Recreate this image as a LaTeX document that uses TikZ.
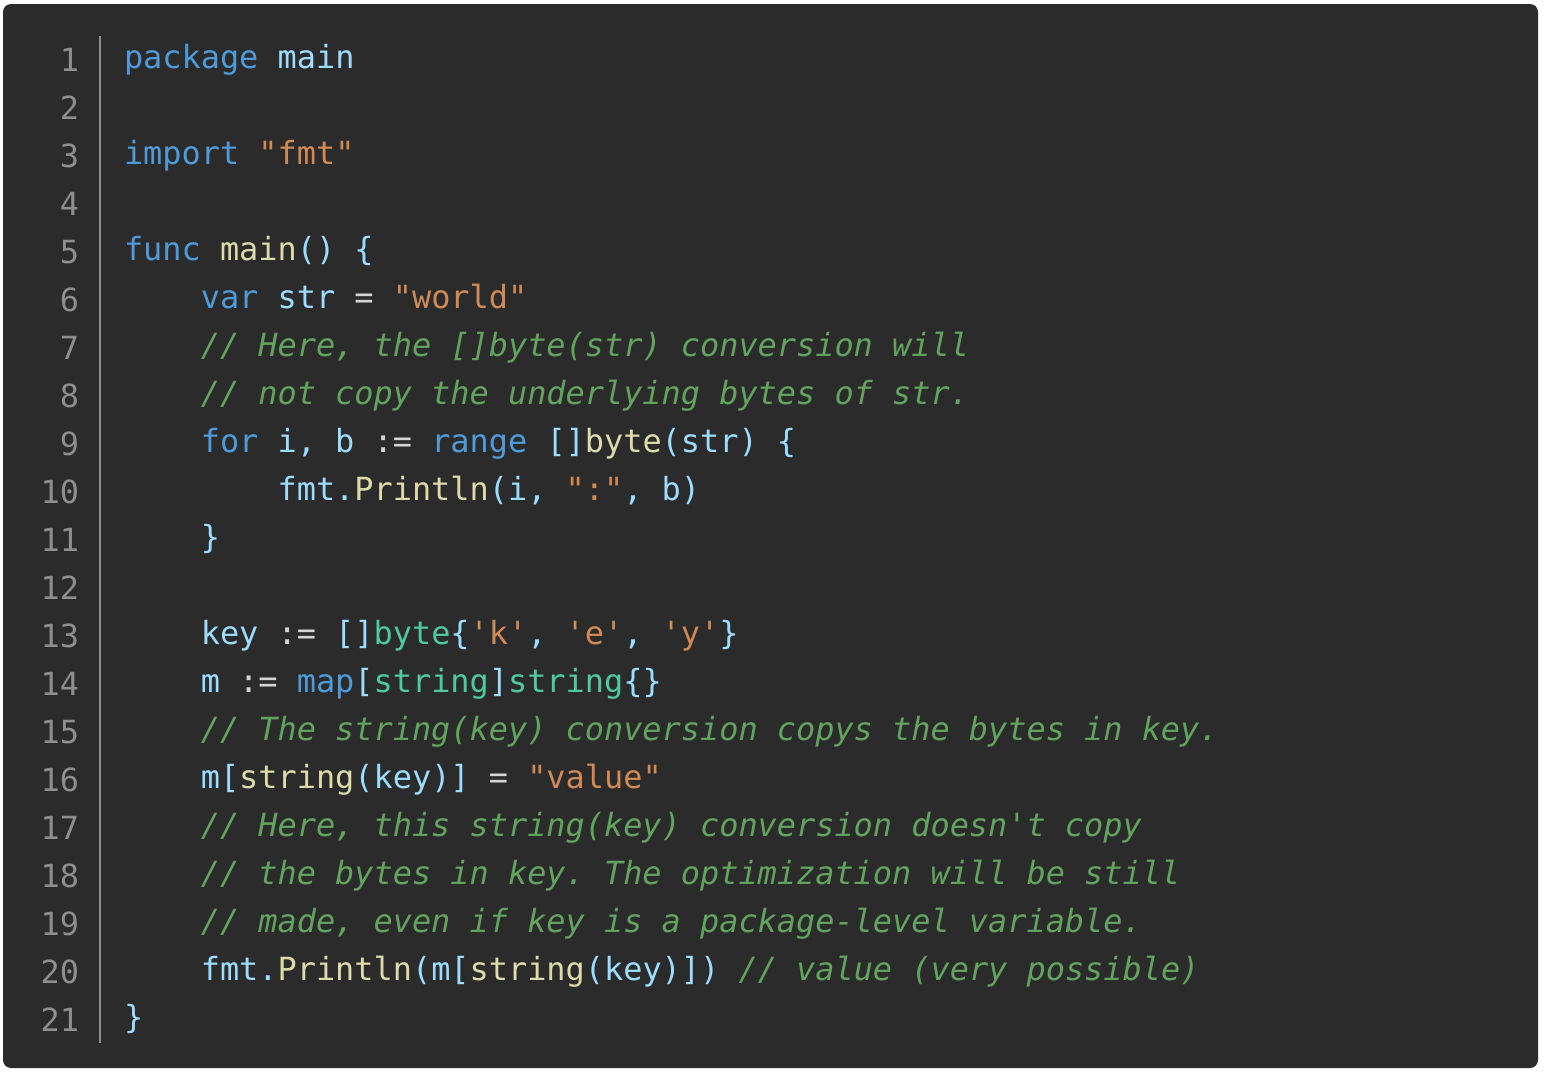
\documentclass[tikz,border=0pt]{standalone}
\usepackage{fontspec}
\setmonofont{DejaVu Sans Mono}
\usepackage{xcolor}

\definecolor{gobg}{HTML}{2B2B2B}
\definecolor{gonum}{HTML}{8E8E8E}
\definecolor{goid}{HTML}{9CDCFE}
\definecolor{gokw}{HTML}{4F9BDA}
\definecolor{gofn}{HTML}{DCDCAA}
\definecolor{goty}{HTML}{4EC9A0}
\definecolor{gostr}{HTML}{D08A56}
\definecolor{gocm}{HTML}{62A35E}
\definecolor{goop}{HTML}{D4D4D4}

\newcommand{\gokw}[1]{\textcolor{gokw}{#1}}
\newcommand{\gofn}[1]{\textcolor{gofn}{#1}}
\newcommand{\goty}[1]{\textcolor{goty}{#1}}
\newcommand{\gostr}[1]{\textcolor{gostr}{#1}}
\newcommand{\goop}[1]{\textcolor{goop}{#1}}
\newcommand{\gocm}[1]{{\itshape\color{gocm}#1}}

\tikzset{
  code/.style={anchor=base west, inner sep=0pt, outer sep=0pt, text=goid,
    font=\ttfamily\fontsize{31.9}{38}\selectfont},
  lnum/.style={anchor=base east, inner sep=0pt, outer sep=0pt, text=gonum,
    font=\ttfamily\fontsize{31.9}{38}\selectfont}
}

\begin{document}
\frenchspacing
\begin{tikzpicture}[x=1pt, y=-1pt]
  \useasboundingbox (0, 0) rectangle (1544, 1072);
  \fill[white] (0, 0) rectangle (1544, 1072);
  \fill[gobg, rounded corners=8pt] (3, 4) rectangle (1538, 1068);
  \draw[gonum, line width=2pt] (100, 36) -- (100, 1043);
  % line numbers
  \foreach \n in {1,...,21}
    \node[lnum] (n\n) at (79, {71+48*(\n-1)}) {\n};
  % code lines
  \node[code] (l1) at (124, 68) {\gokw{package} main};
  \node[code] (l3) at (124, 164) {\gokw{import} \gostr{"fmt"}};
  \node[code] (l5) at (124, 260) {\gokw{func} \gofn{main}() \{};
  \node[code] (l6) at (200.8, 308) {\gokw{var} str \goop{=} \gostr{"world"}};
  \node[code] (l7) at (200.8, 356) {\gocm{// Here, the []byte(str) conversion will}};
  \node[code] (l8) at (200.8, 404) {\gocm{// not copy the underlying bytes of str.}};
  \node[code] (l9) at (200.8, 452) {\gokw{for} i, b \goop{:=} \gokw{range} []\gofn{byte}(str) \{};
  \node[code] (l10) at (277.6, 500) {fmt.\gofn{Println}(i, \gostr{":"}, b)};
  \node[code] (l11) at (200.8, 548) {\}};
  \node[code] (l13) at (200.8, 644) {key \goop{:=} []\goty{byte}\{\gostr{'k'}, \gostr{'e'}, \gostr{'y'}\}};
  \node[code] (l14) at (200.8, 692) {m \goop{:=} \gokw{map}[\goty{string}]\goty{string}\{\}};
  \node[code] (l15) at (200.8, 740) {\gocm{// The string(key) conversion copys the bytes in key.}};
  \node[code] (l16) at (200.8, 788) {m[\gofn{string}(key)] \goop{=} \gostr{"value"}};
  \node[code] (l17) at (200.8, 836) {\gocm{// Here, this string(key) conversion doesn't copy}};
  \node[code] (l18) at (200.8, 884) {\gocm{// the bytes in key. The optimization will be still}};
  \node[code] (l19) at (200.8, 932) {\gocm{// made, even if key is a package-level variable.}};
  \node[code] (l20) at (200.8, 980) {fmt.\gofn{Println}(m[\gofn{string}(key)]) \gocm{// value (very possible)}};
  \node[code] (l21) at (124, 1028) {\}};
\end{tikzpicture}
\end{document}
